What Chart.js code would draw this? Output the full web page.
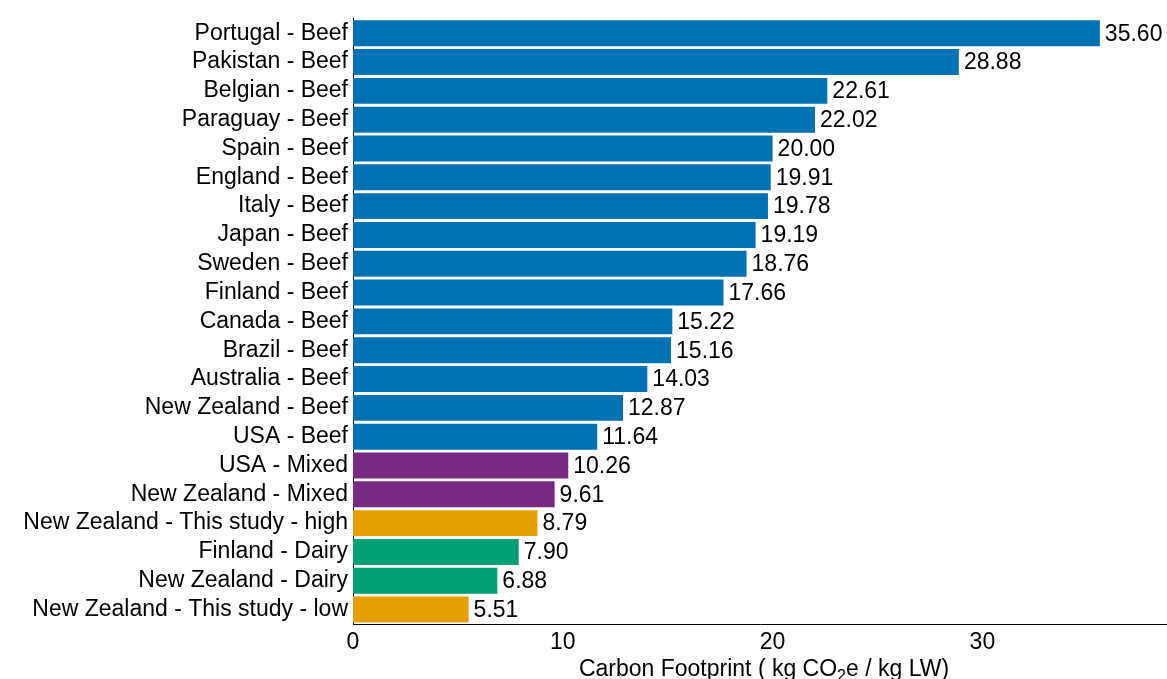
<!DOCTYPE html>
<html>
<head>
<meta charset="utf-8">
<script src="https://cdn.jsdelivr.net/npm/chart.js@4.4.1/dist/chart.umd.min.js"></script>
<style>
  html, body { margin: 0; padding: 0; background: #ffffff; }
  #wrap { width: 1167px; height: 679px; position: relative; }
</style>
</head>
<body>
<div id="wrap"><canvas id="c" width="1167" height="679"></canvas></div>
<script>
// Carbon footprint per kg live weight, by study
const categories = [
  "Portugal - Beef", "Pakistan - Beef", "Belgian - Beef", "Paraguay - Beef",
  "Spain - Beef", "England - Beef", "Italy - Beef", "Japan - Beef",
  "Sweden - Beef", "Finland - Beef", "Canada - Beef", "Brazil - Beef",
  "Australia - Beef", "New Zealand - Beef", "USA - Beef", "USA - Mixed",
  "New Zealand - Mixed", "New Zealand - This study - high", "Finland - Dairy",
  "New Zealand - Dairy", "New Zealand - This study - low"
];
const footprints = [
  35.60, 28.88, 22.61, 22.02, 20.00, 19.91, 19.78, 19.19, 18.76, 17.66,
  15.22, 15.16, 14.03, 12.87, 11.64, 10.26, 9.61, 8.79, 7.90, 6.88, 5.51
];
const systemTypes = [
  "beef", "beef", "beef", "beef", "beef", "beef", "beef", "beef", "beef", "beef",
  "beef", "beef", "beef", "beef", "beef", "mixed", "mixed", "study", "dairy",
  "dairy", "study"
];
const xTicks = [0, 10, 20, 30];

const typeColours = {
  beef: "#0072B2",
  mixed: "#782A82",
  study: "#E69F00",
  dairy: "#009E73"
};

const FONT = "'Liberation Sans', Arial, sans-serif";
const FS = 23;

// Writes each bar's value just past its end
const valueLabels = {
  id: "valueLabels",
  afterDatasetsDraw(chart) {
    const ctx = chart.ctx;
    const meta = chart.getDatasetMeta(0);
    ctx.save();
    ctx.font = FS + "px " + FONT;
    ctx.fillStyle = "#000000";
    ctx.textAlign = "left";
    ctx.textBaseline = "middle";
    meta.data.forEach((bar, i) => {
      ctx.fillText(footprints[i].toFixed(2), bar.x + 5, bar.y + 1);
    });
    ctx.restore();
  }
};

// Axis title with a subscripted 2 in CO2e
const xAxisTitle = {
  id: "xAxisTitle",
  afterDraw(chart) {
    const ctx = chart.ctx;
    const area = chart.chartArea;
    const parts = [
      { t: "Carbon Footprint ( kg CO", size: FS, dy: 0 },
      { t: "2", size: Math.round(FS * 0.7), dy: 5 },
      { t: "e / kg LW)", size: FS, dy: 0 }
    ];
    ctx.save();
    ctx.fillStyle = "#000000";
    ctx.textBaseline = "alphabetic";
    let total = 0;
    parts.forEach(p => { ctx.font = p.size + "px " + FONT; p.w = ctx.measureText(p.t).width; total += p.w; });
    let x = (area.left + area.right) / 2 - total / 2 + 4;
    const baseY = 676;
    parts.forEach(p => {
      ctx.font = p.size + "px " + FONT;
      ctx.textAlign = "left";
      ctx.fillText(p.t, x, baseY + p.dy);
      x += p.w;
    });
    ctx.restore();
  }
};

new Chart(document.getElementById("c"), {
  type: "bar",
  data: {
    labels: categories,
    datasets: [{
      data: footprints,
      backgroundColor: systemTypes.map(t => typeColours[t]),
      borderWidth: 0,
      categoryPercentage: 1.0,
      barPercentage: 0.9
    }]
  },
  options: {
    indexAxis: "y",
    responsive: false,
    animation: false,
    devicePixelRatio: 1,
    layout: { padding: { top: 15, right: 0, bottom: 0, left: 0 } },
    plugins: {
      legend: { display: false },
      tooltip: { enabled: false }
    },
    scales: {
      x: {
        min: 0,
        max: 38.8,
        afterFit(scale) { scale.height = 55; },
        afterBuildTicks(scale) { scale.ticks = xTicks.map(v => ({ value: v })); },
        grid: { display: false, drawTicks: false },
        border: { display: true, color: "#000000", width: 1 },
        ticks: {
          color: "#000000",
          font: { family: FONT, size: FS },
          padding: 5,
          maxRotation: 0
        }
      },
      y: {
        afterFit(scale) { scale.width = 353; },
        grid: { display: false, drawTicks: false },
        border: { display: true, color: "#000000", width: 1 },
        ticks: {
          color: "#000000",
          font: { family: FONT, size: FS },
          padding: 5,
          autoSkip: false
        }
      }
    }
  },
  plugins: [valueLabels, xAxisTitle]
});
</script>
</body>
</html>
